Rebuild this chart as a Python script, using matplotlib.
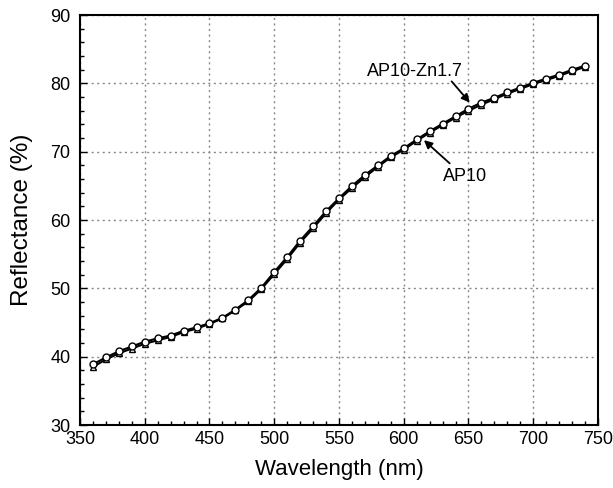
import matplotlib
matplotlib.use("Agg")
import matplotlib.pyplot as plt
from matplotlib.ticker import MultipleLocator

wavelength = list(range(360, 750, 10))
ap10_zn = [38.9, 39.9, 40.8, 41.5, 42.2, 42.7, 43.1, 43.8, 44.3, 44.9,
           45.7, 46.9, 48.3, 50.1, 52.4, 54.6, 57.0, 59.1, 61.3, 63.2,
           65.0, 66.6, 68.0, 69.4, 70.5, 71.8, 73.0, 74.1, 75.2, 76.3,
           77.2, 77.9, 78.7, 79.4, 80.1, 80.7, 81.3, 82.0, 82.6]
ap10 = [38.5, 39.6, 40.5, 41.2, 41.9, 42.4, 42.9, 43.6, 44.1, 44.8,
        45.6, 46.8, 48.1, 49.9, 52.1, 54.3, 56.7, 58.8, 61.0, 63.0,
        64.7, 66.3, 67.8, 69.2, 70.3, 71.6, 72.8, 73.9, 75.0, 76.0,
        76.9, 77.7, 78.5, 79.2, 79.9, 80.5, 81.1, 81.8, 82.4]

plt.rcParams['font.family'] = ['Liberation Sans', 'DejaVu Sans']

fig = plt.figure(figsize=(6.13, 4.88), dpi=100)
ax = fig.add_axes([0.1305, 0.129, 0.845, 0.84])

ax.plot(wavelength, ap10, color='black', lw=1.5, marker='^', ms=5,
        mfc='white', mec='black', mew=1.0)
ax.plot(wavelength, ap10_zn, color='black', lw=1.5, marker='o', ms=5,
        mfc='white', mec='black', mew=1.0)

ax.set_xlim(350, 750)
ax.set_ylim(30, 90)
ax.xaxis.set_major_locator(MultipleLocator(50))
ax.xaxis.set_minor_locator(MultipleLocator(10))
ax.yaxis.set_major_locator(MultipleLocator(10))
ax.yaxis.set_minor_locator(MultipleLocator(2))
ax.tick_params(which='both', direction='in', top=False, right=False,
               labelsize=13, width=1.0)
ax.tick_params(axis='y', which='major', pad=7)
ax.tick_params(axis='x', which='major', pad=4)
ax.tick_params(which='major', length=5)
ax.tick_params(which='minor', length=3)
ax.grid(True, which='major', color='#888888', linestyle=(0, (1.5, 2.5)), lw=1.0)
for s in ax.spines.values():
    s.set_linewidth(1.5)

ax.set_xlabel('Wavelength (nm)', fontsize=16, labelpad=8)
ax.set_ylabel('Reflectance (%)', fontsize=17.5, labelpad=12)

ax.text(608.5, 81.7, 'AP10-Zn1.7', fontsize=13, ha='center', va='center')
ax.annotate('', xy=(651, 77.2), xytext=(637, 80.3),
            arrowprops=dict(arrowstyle='-|>', color='black', lw=1.3,
                            shrinkA=0, shrinkB=0, mutation_scale=12))
ax.text(647.5, 66.4, 'AP10', fontsize=13, ha='center', va='center')
ax.annotate('', xy=(615.6, 71.7), xytext=(635.5, 68.3),
            arrowprops=dict(arrowstyle='-|>', color='black', lw=1.3,
                            shrinkA=0, shrinkB=0, mutation_scale=12))

fig.savefig('out.png', dpi=100)
